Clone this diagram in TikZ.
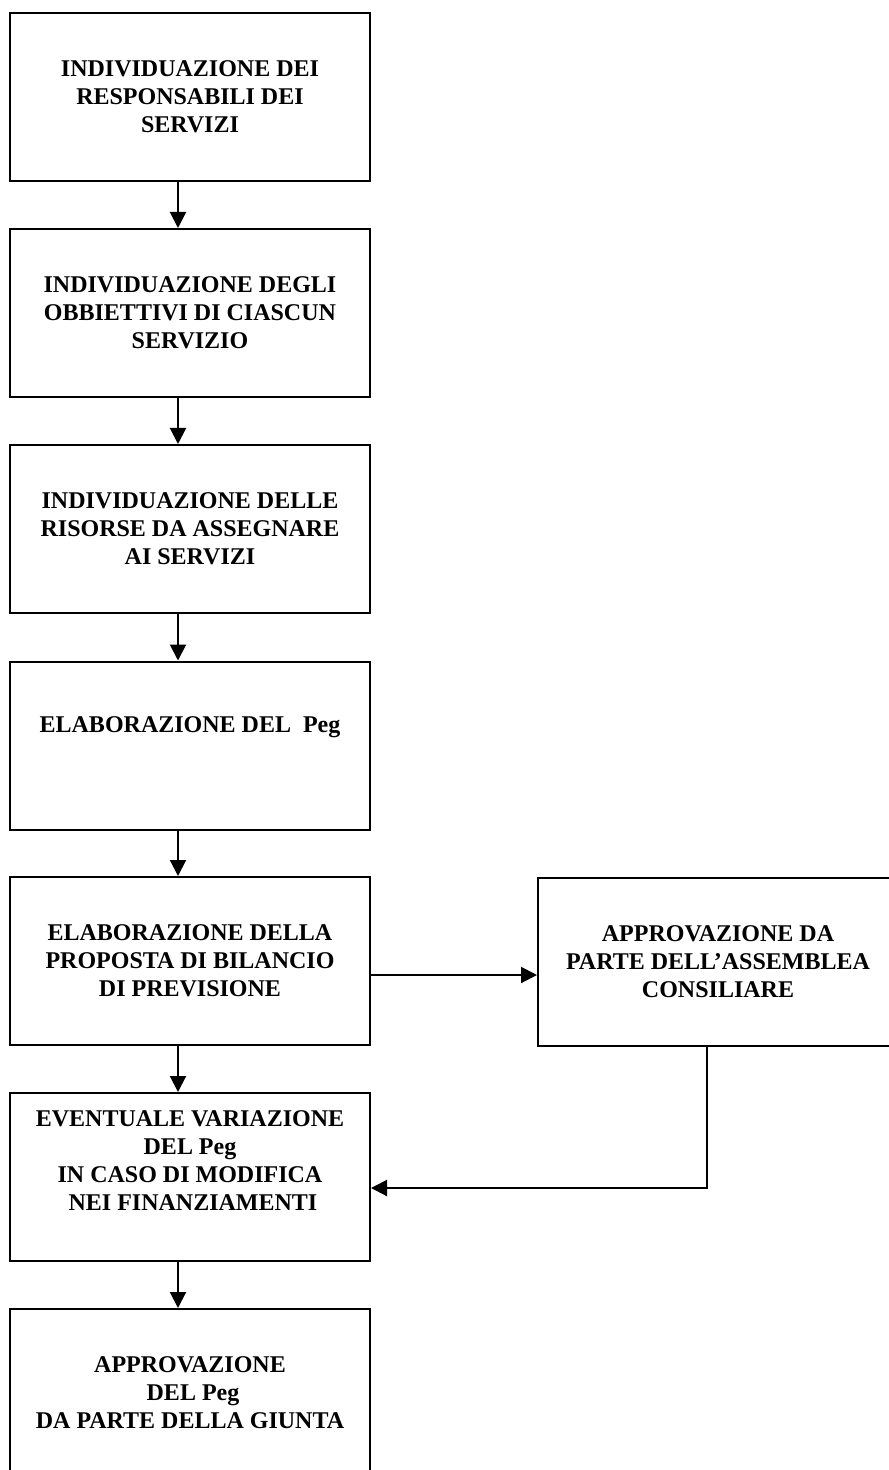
\documentclass[tikz,border=0pt]{standalone}
\usepackage{fontspec}
\setmainfont{Liberation Serif}
\usetikzlibrary{arrows.meta}

\begin{document}
\begin{tikzpicture}[x=0.5pt, y=-0.5pt, >={Triangle[length=8pt,width=8pt]},
		box/.style={draw, line width=1pt, minimum width=180pt, minimum height=84pt, inner sep=0pt, align=center, font=\fontsize{12}{14}\selectfont\bfseries},
		link/.style={->, line width=1pt}]
			\useasboundingbox (0, 0) rectangle (888, 1470);
			\node[box] (resp) at (190, 97) {INDIVIDUAZIONE DEI\\RESPONSABILI DEI\\SERVIZI};
			\node[box] (obiet) at (190, 313) {INDIVIDUAZIONE DEGLI\\OBBIETTIVI DI CIASCUN\\SERVIZIO};
			\node[box] (risorse) at (190, 529) {INDIVIDUAZIONE DELLE\\RISORSE DA ASSEGNARE\\AI SERVIZI};
			\node[box] (peg) at (190, 745.5) {ELABORAZIONE DEL\ \ Peg\\[7pt]\mbox{}};
			\node[box] (bilancio) at (190, 961) {ELABORAZIONE DELLA\\PROPOSTA DI BILANCIO\\DI PREVISIONE};
			\node[box] (variaz) at (190, 1177) {EVENTUALE VARIAZIONE\\DEL Peg\\IN CASO DI MODIFICA\\\ NEI FINANZIAMENTI\\[2pt]\mbox{}};
			\node[box] (giunta) at (190, 1393) {APPROVAZIONE\\\ DEL Peg\\DA PARTE DELLA GIUNTA};
			\node[box] (assemblea) at (718, 962) {APPROVAZIONE DA\\PARTE DELL'ASSEMBLEA\\CONSILIARE};
			\foreach \a/\b in {resp/obiet, obiet/risorse, risorse/peg, peg/bilancio, bilancio/variaz, variaz/giunta}
				\draw[link] ([xshift=-6pt]\a.south) -- ([xshift=-6pt]\b.north);
			\coordinate (uscita) at ([yshift=-7pt]bilancio.east);
			\draw[link] (uscita) -- (uscita -| assemblea.west);
			\coordinate (ritorno) at ([yshift=-5.5pt]variaz.east);
			\draw[link] ([xshift=-5.5pt]assemblea.south) |- (ritorno);
		\end{tikzpicture}
\end{document}
